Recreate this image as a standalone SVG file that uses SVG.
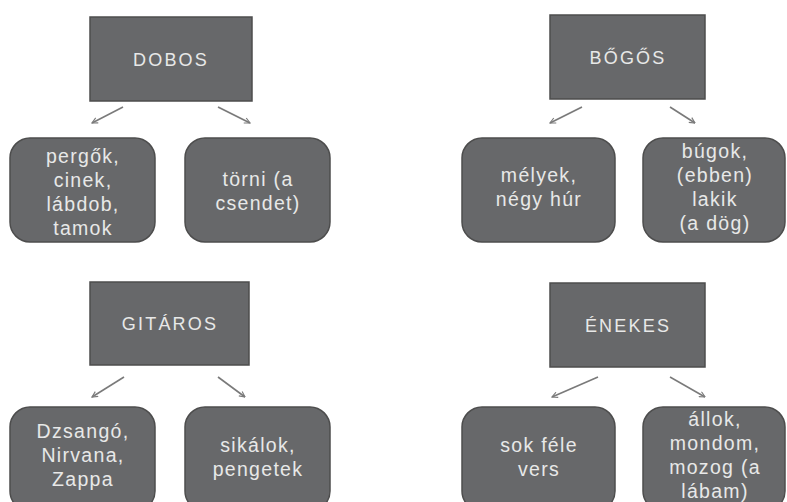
<svg xmlns="http://www.w3.org/2000/svg" width="787" height="502" viewBox="0 0 787 502">
<defs>
<style>
.hd{fill:#67686a;stroke:#4d4d4d;stroke-width:1.5}
.ch{fill:#67686a;stroke:#4d4d4d;stroke-width:1.5}
.t{font-family:"Liberation Sans","Open Sans",sans-serif;fill:#e8e8e8;text-anchor:middle}
.ht{font-size:18px;letter-spacing:2.2px}
.ct{font-size:19.5px;letter-spacing:1.3px}
.ar{stroke:#7a7a7a;stroke-width:1.6;fill:none;marker-end:url(#ah)}
</style>
<marker id="ah" viewBox="0 0 10 10" refX="9" refY="5" markerWidth="7" markerHeight="7" orient="auto" markerUnits="userSpaceOnUse">
<path d="M1,1 L9,5 L1,9" fill="none" stroke="#7a7a7a" stroke-width="1.6"/>
</marker>
</defs>
<rect width="787" height="502" fill="#ffffff"/>
<g id="connectors">
<line class="ar" x1="123" y1="107" x2="92" y2="123"/>
<line class="ar" x1="218" y1="107" x2="250" y2="123"/>
<line class="ar" x1="582" y1="107" x2="550" y2="123"/>
<line class="ar" x1="670" y1="107" x2="695" y2="123"/>
<line class="ar" x1="124" y1="377" x2="92" y2="397"/>
<line class="ar" x1="218" y1="377" x2="245" y2="397"/>
<line class="ar" x1="598" y1="377" x2="552" y2="397"/>
<line class="ar" x1="670" y1="377" x2="705" y2="397"/>
</g>
<g id="dobos">
<rect class="hd" x="90" y="17" width="162" height="84"/>
<text class="t ht" x="171" y="66">DOBOS</text>
</g>
<g id="dobos-1">
<rect class="ch" x="10" y="138" width="145" height="104" rx="20"/>
<text class="t ct" x="83" y="163">pergők,</text>
<text class="t ct" x="83" y="187">cinek,</text>
<text class="t ct" x="83" y="211">lábdob,</text>
<text class="t ct" x="83" y="235">tamok</text>
</g>
<g id="dobos-2">
<rect class="ch" x="185" y="138" width="145" height="104" rx="20"/>
<text class="t ct" x="258" y="186">törni (a</text>
<text class="t ct" x="258" y="210">csendet)</text>
</g>
<g id="bogos">
<rect class="hd" x="550" y="15" width="155" height="84"/>
<text class="t ht" x="628" y="64">BŐGŐS</text>
</g>
<g id="bogos-1">
<rect class="ch" x="462" y="138" width="153" height="104" rx="20"/>
<text class="t ct" x="539" y="182">mélyek,</text>
<text class="t ct" x="539" y="206">négy húr</text>
</g>
<g id="bogos-2">
<rect class="ch" x="643" y="138" width="142" height="104" rx="20"/>
<text class="t ct" x="715" y="158">búgok,</text>
<text class="t ct" x="715" y="182">(ebben)</text>
<text class="t ct" x="715" y="206">lakik</text>
<text class="t ct" x="715" y="230">(a dög)</text>
</g>
<g id="gitaros">
<rect class="hd" x="90" y="282" width="159" height="83"/>
<text class="t ht" x="170" y="330">GITÁROS</text>
</g>
<g id="gitaros-1">
<rect class="ch" x="10" y="407" width="145" height="104" rx="20"/>
<text class="t ct" x="83" y="438">Dzsangó,</text>
<text class="t ct" x="83" y="462">Nirvana,</text>
<text class="t ct" x="83" y="486">Zappa</text>
</g>
<g id="gitaros-2">
<rect class="ch" x="185" y="407" width="145" height="104" rx="20"/>
<text class="t ct" x="258" y="452">sikálok,</text>
<text class="t ct" x="258" y="476">pengetek</text>
</g>
<g id="enekes">
<rect class="hd" x="550" y="283" width="155" height="84"/>
<text class="t ht" x="628" y="332">ÉNEKES</text>
</g>
<g id="enekes-1">
<rect class="ch" x="462" y="407" width="153" height="104" rx="20"/>
<text class="t ct" x="539" y="452">sok féle</text>
<text class="t ct" x="539" y="476">vers</text>
</g>
<g id="enekes-2">
<rect class="ch" x="643" y="407" width="142" height="104" rx="20"/>
<text class="t ct" x="715" y="426">állok,</text>
<text class="t ct" x="715" y="450">mondom,</text>
<text class="t ct" x="715" y="474">mozog (a</text>
<text class="t ct" x="715" y="498">lábam)</text>
</g>
</svg>
